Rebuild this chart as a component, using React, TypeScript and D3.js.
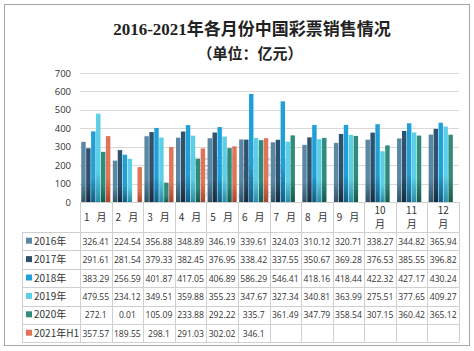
import * as d3 from 'd3';
import { useEffect, useRef } from 'react';

const months = ['1月', '2月', '3月', '4月', '5月', '6月', '7月', '8月', '9月', '10月', '11月', '12月'];
const seriesNames = ['2016年', '2017年', '2018年', '2019年', '2020年', '2021年H1'];
const sales2016 = [326.41, 224.54, 356.88, 348.89, 346.19, 339.61, 324.03, 310.12, 320.71, 338.27, 344.82, 365.94];
const sales2017 = [291.61, 281.54, 379.33, 382.45, 376.95, 338.42, 337.55, 350.67, 369.28, 376.53, 385.55, 396.82];
const sales2018 = [383.29, 256.59, 401.87, 417.05, 406.89, 586.29, 546.41, 418.16, 418.44, 422.32, 427.17, 430.24];
const sales2019 = [479.55, 234.12, 349.51, 359.88, 355.23, 347.67, 327.34, 340.81, 363.99, 275.51, 377.65, 409.27];
const sales2020 = [272.1, 0.01, 105.09, 233.88, 292.22, 335.7, 361.49, 347.79, 358.54, 307.15, 360.42, 365.12];
const sales2021 = [357.57, 189.55, 298.1, 291.03, 302.02, 346.1];
const yTicks = [0, 100, 200, 300, 400, 500, 600, 700];

const colors = ['#5a88a4', '#2d526e', '#20a0d8', '#5ccfe6', '#2f8c7c', '#e07459'];
const darker = ['#2f546b', '#142c3f', '#0f5f88', '#2a8ea5', '#145a4d', '#a8452f'];

const allSeries = [sales2016, sales2017, sales2018, sales2019, sales2020, sales2021];

const App = () => {
    const svgRef = useRef<SVGSVGElement>(null);

    useEffect(() => {
        const svg = d3.select(svgRef.current);
        svg.selectAll('*').remove();

        const width = 474;
        const height = 351;
        const left = 80;
        const right = 459;
        const top = 73;
        const bottom = 202;
        const tableLeft = 22;
        const rowH = 18.4;
        const headBottom = 232;

        const cjk = "'Noto Sans CJK SC', sans-serif";
        const num = "'Open Sans', 'Noto Sans', sans-serif";

        svg.append('rect')
            .attr('x', 0).attr('y', 0).attr('width', width).attr('height', height)
            .attr('fill', '#fff');
        svg.append('rect')
            .attr('x', 4.5).attr('y', 4.5).attr('width', 465).attr('height', 341)
            .attr('fill', '#fff').attr('stroke', '#a6a6a6').attr('stroke-width', 1);

        // Gradients
        const defs = svg.append('defs');
        colors.forEach((c, i) => {
            const g = defs.append('linearGradient')
                .attr('id', `grad${i}`)
                .attr('x1', 0).attr('y1', 0).attr('x2', 0).attr('y2', 1);
            g.append('stop').attr('offset', '0%').attr('stop-color', c);
            g.append('stop').attr('offset', '65%').attr('stop-color', c);
            g.append('stop').attr('offset', '100%').attr('stop-color', darker[i]);
        });

        // Title
        svg.append('text')
            .attr('x', 252).attr('y', 35)
            .attr('text-anchor', 'middle')
            .style('font-family', "'Liberation Serif', 'Noto Sans CJK SC', serif")
            .style('font-size', '17px')
            .style('font-weight', 'bold')
            .attr('fill', '#222')
            .text('2016-2021年各月份中国彩票销售情况');
        svg.append('text')
            .attr('x', 250).attr('y', 59)
            .attr('text-anchor', 'middle')
            .style('font-family', cjk)
            .style('font-size', '15px')
            .style('font-weight', 'bold')
            .attr('fill', '#222')
            .text('（单位：亿元）');

        // Scales
        const x0 = d3.scaleBand<string>().domain(months).range([left, right]);
        const x1 = d3.scaleBand<string>()
            .domain(seriesNames)
            .range([0, x0.bandwidth()])
            .paddingInner(0.1)
            .paddingOuter(0.25);
        const y = d3.scaleLinear().domain([0, 700]).range([bottom, top]);

        // Grid + y labels
        svg.append('g')
            .selectAll('line')
            .data(yTicks.filter((t) => t > 0))
            .enter()
            .append('line')
            .attr('x1', left).attr('x2', right)
            .attr('y1', (d) => Math.round(y(d)) + 0.5)
            .attr('y2', (d) => Math.round(y(d)) + 0.5)
            .attr('stroke', '#d9d9d9');
        svg.append('g')
            .selectAll('text')
            .data(yTicks)
            .enter()
            .append('text')
            .attr('x', 71)
            .attr('y', (d) => y(d) + 3.5)
            .attr('text-anchor', 'end')
            .style('font-family', num)
            .style('font-size', '9.5px')
            .attr('fill', '#333')
            .text((d) => d);

        // Watermark
        svg.append('text')
            .attr('x', 238).attr('y', 177)
            .attr('text-anchor', 'middle')
            .style('font-family', cjk)
            .style('font-size', '25px')
            .attr('fill', '#7f8a90')
            .attr('opacity', 0.35)
            .text('智研咨询');
        svg.append('text')
            .attr('x', 238).attr('y', 197)
            .attr('text-anchor', 'middle')
            .style('font-family', num)
            .style('font-size', '9px')
            .style('letter-spacing', '2px')
            .attr('fill', '#7f8a90')
            .attr('opacity', 0.35)
            .text('www.chyxx.com');

        // Bars
        const barsG = svg.append('g');
        allSeries.forEach((vals, si) => {
            barsG.append('g')
                .selectAll('rect')
                .data(vals.map((v, i) => ({ m: months[i], v })))
                .enter()
                .append('rect')
                .attr('x', (d) => x0(d.m)! + x1(seriesNames[si])!)
                .attr('y', (d) => y(d.v))
                .attr('width', x1.bandwidth())
                .attr('height', (d) => y(0) - y(d.v))
                .attr('fill', `url(#grad${si})`);
        });

        // Table lines
        const tableBottom = headBottom + rowH * seriesNames.length;
        const lines = svg.append('g').attr('stroke', '#d0d0d0').attr('stroke-width', 1);
        lines.append('line')
            .attr('x1', left).attr('x2', right)
            .attr('y1', bottom + 0.5).attr('y2', bottom + 0.5);
        d3.range(seriesNames.length + 1).forEach((r) => {
            const yy = Math.round(headBottom + r * rowH) + 0.5;
            lines.append('line')
                .attr('x1', tableLeft).attr('x2', right)
                .attr('y1', yy).attr('y2', yy);
        });
        lines.append('line')
            .attr('x1', tableLeft + 0.5).attr('x2', tableLeft + 0.5)
            .attr('y1', headBottom).attr('y2', tableBottom);
        [...months.map((m) => x0(m)!), right].forEach((xx) => {
            lines.append('line')
                .attr('x1', Math.round(xx) + 0.5).attr('x2', Math.round(xx) + 0.5)
                .attr('y1', bottom).attr('y2', tableBottom);
        });

        // Month labels
        const monthG = svg.append('g')
            .style('font-family', cjk)
            .style('font-size', '10px')
            .attr('fill', '#333');
        months.forEach((m) => {
            const cx = x0(m)!;
            const digit = m.replace('月', '');
            if (digit.length === 1) {
                monthG.append('text')
                    .attr('x', cx + 4).attr('y', 221)
                    .text(digit);
                monthG.append('text')
                    .attr('x', cx + x0.bandwidth() - 5).attr('y', 221)
                    .attr('text-anchor', 'end')
                    .text('月');
            } else {
                monthG.append('text')
                    .attr('x', cx + x0.bandwidth() / 2).attr('y', 214)
                    .attr('text-anchor', 'middle')
                    .text(digit);
                monthG.append('text')
                    .attr('x', cx + x0.bandwidth() / 2).attr('y', 228)
                    .attr('text-anchor', 'middle')
                    .text('月');
            }
        });

        // Legend + values
        seriesNames.forEach((name, si) => {
            const rowMid = headBottom + rowH * si + rowH / 2;
            svg.append('rect')
                .attr('x', 26).attr('y', rowMid - 3.5)
                .attr('width', 6).attr('height', 6)
                .attr('fill', colors[si]);
            svg.append('text')
                .attr('x', 34).attr('y', rowMid + 3.5)
                .style('font-family', cjk)
                .style('font-size', '10px')
                .attr('fill', '#333')
                .text(name);
            svg.append('g')
                .selectAll('text')
                .data(allSeries[si].map((v, i) => ({ m: months[i], v })))
                .enter()
                .append('text')
                .attr('x', (d) => x0(d.m)! + x0.bandwidth() / 2)
                .attr('y', rowMid + 3.5)
                .attr('text-anchor', 'middle')
                .style('font-family', num)
                .style('font-size', '8.6px')
                .attr('fill', '#333')
                .text((d) => String(d.v));
        });
    }, []);

    return (
        <div style={{ position: 'absolute', left: 0, top: 0 }}>
            <svg ref={svgRef} width={474} height={351} style={{ display: 'block' }}></svg>
        </div>
    );
};

export default App;
